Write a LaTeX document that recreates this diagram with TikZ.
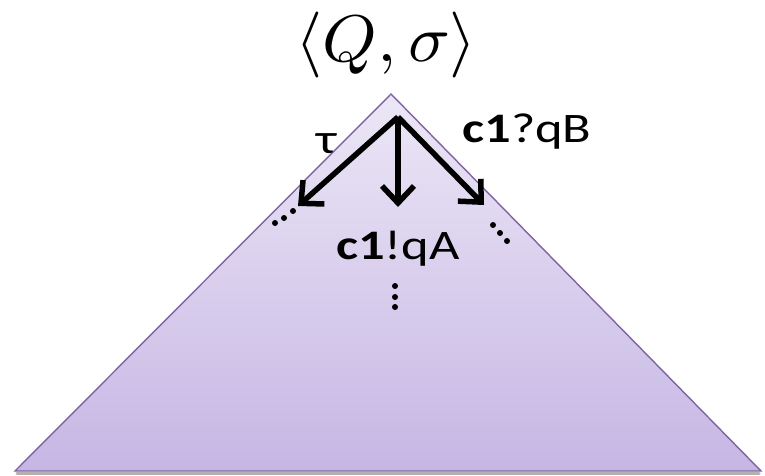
\documentclass[tikz,border=0pt]{standalone}
\usepackage{fontspec}
\usepackage{unicode-math}
\setmainfont{Carlito}
\usetikzlibrary{arrows.meta}
\definecolor{edgepurple}{RGB}{128,100,162}
\definecolor{filltop}{RGB}{236,231,246}
\definecolor{fillbot}{RGB}{198,182,228}
\tikzset{
  lbl/.style={font=\fontsize{42}{46}\selectfont, inner sep=0pt, anchor=base, xscale=1.25, transform shape},
  arr/.style={line width=5.5pt, -{Straight Barb[length=17pt,width=32pt]}},
  dotm/.style={fill=black, circle, inner sep=0pt, minimum size=6pt},
}
\begin{document}
\begin{tikzpicture}[x=1pt,y=1pt]
\useasboundingbox (0,0) rectangle (765,475);
\coordinate (apex) at (391,381);
\coordinate (bl) at (15,4);
\coordinate (br) at (761,4);
% shadow
\draw[line width=3pt, black!30, line cap=round] (17,1.5) -- (759,1.5);
\shade[top color=filltop, bottom color=fillbot] (apex) -- (br) -- (bl) -- cycle;
\draw[edgepurple, line width=1.4pt, line join=miter] (apex) -- (br) -- (bl) -- cycle;
% root label
\node[inner sep=0pt, anchor=base, font=\fontsize{66}{72}\selectfont, xscale=1.05, transform shape] (root) at (386,413) {$\langle Q,\sigma\rangle$};
% arrows
\coordinate (src) at (398,358);
\coordinate (tl) at (298,269);
\coordinate (tm) at (398,268);
\coordinate (tr) at (484,270);
\draw[arr] (src) -- (tl);
\draw[arr] (src) -- (tm);
\draw[arr] (src) -- (tr);
% labels
\node[lbl] (tau) at (327,322) {τ};
\node[lbl] (recv) at (527,333) {\textbf{c1}?qB};
\node[lbl] (send) at (398,216) {\textbf{c1}!qA};
% dots
\node[dotm] (l1) at (275,252) {};
\node[dotm] (l2) at (284,257) {};
\node[dotm] (l3) at (293,264) {};
\node[dotm] (r1) at (493,250) {};
\node[dotm] (r2) at (500,242) {};
\node[dotm] (r3) at (507,234) {};
\node[dotm] (m1) at (395,189) {};
\node[dotm] (m2) at (395,178) {};
\node[dotm] (m3) at (395,168) {};
\end{tikzpicture}
\end{document}
